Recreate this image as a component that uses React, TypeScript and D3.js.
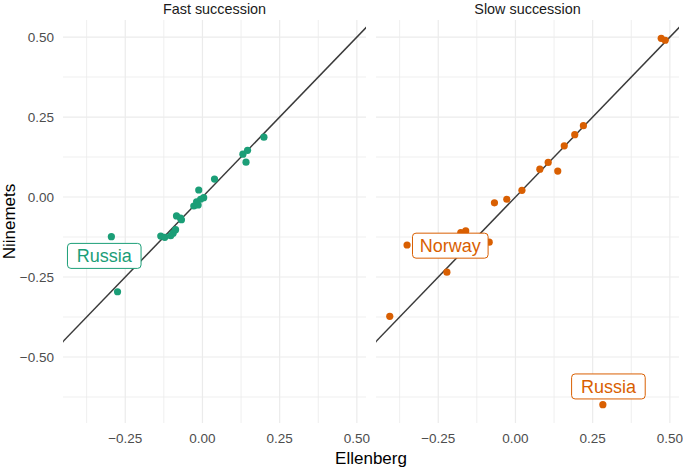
import React from "react";
import * as d3 from "d3";

const panels = ["Fast succession", "Slow succession"];
const panelColors = ["#1B9E77", "#D95F02"];

// Fast succession (Ellenberg, Niinemets)
const fastEllenberg = [-0.295, -0.275, -0.135, -0.122, -0.103, -0.095, -0.087, -0.084, -0.068, -0.071, -0.028, -0.019, -0.014, -0.012, 0.004, -0.006, 0.039, 0.131, 0.146, 0.141, 0.199];
const fastNiinemets = [-0.124, -0.296, -0.122, -0.126, -0.121, -0.113, -0.102, -0.059, -0.071, -0.066, -0.028, -0.015, -0.025, 0.022, -0.002, -0.007, 0.056, 0.134, 0.146, 0.109, 0.187];

// Slow succession
const slowEllenberg = [-0.407, -0.351, -0.222, -0.177, -0.161, -0.085, -0.068, -0.028, 0.021, 0.079, 0.106, 0.137, 0.158, 0.192, 0.22, 0.472, 0.485, 0.283];
const slowNiinemets = [-0.373, -0.15, -0.235, -0.111, -0.106, -0.141, -0.018, -0.007, 0.021, 0.087, 0.108, 0.081, 0.16, 0.195, 0.223, 0.496, 0.49, -0.649];

// labels: panel index, text, label centre (data units)
const labelPanel = [0, 1, 1];
const labelText = ["Russia", "Norway", "Russia"];
const labelX = [-0.318, -0.211, 0.301];
const labelY = [-0.184, -0.152, -0.592];

const xMajor = [-0.25, 0, 0.25, 0.5];
const xMinor = [-0.375, -0.125, 0.125, 0.375];
const yMajor = [-0.5, -0.25, 0, 0.25, 0.5];
const yMinor = [-0.625, -0.375, -0.125, 0.125, 0.375];

const W = 683;
const H = 468;
const font = "'Liberation Sans', Arial, Helvetica, sans-serif";

function expand(vals: number[]): [number, number] {
  const [a, b] = d3.extent(vals) as [number, number];
  const e = (b - a) * 0.05;
  return [a - e, b + e];
}

const fmt = (v: number) => d3.format(".2f")(v);

export default function App() {
  const allX = [...fastEllenberg, ...slowEllenberg];
  const allY = [...fastNiinemets, ...slowNiinemets];
  const xDom = expand(allX);
  const yDom = expand(allY);
  const top = 20;
  const bottom = 423;
  const panelLeft = [63, 376];
  const panelW = 303;
  const y = d3.scaleLinear().domain(yDom).range([bottom, top]);
  const data = [
    { xs: fastEllenberg, ys: fastNiinemets },
    { xs: slowEllenberg, ys: slowNiinemets },
  ];

  return (
    <svg width={W} height={H} style={{ display: "block", position: "absolute", left: 0, top: 0, background: "#fff" }} fontFamily={font}>
      <rect width={W} height={H} fill="#fff" />
      <defs>
        {panels.map((p, i) => (
          <clipPath id={`clip${i}`} key={p}>
            <rect x={panelLeft[i]} y={top} width={panelW} height={bottom - top} />
          </clipPath>
        ))}
      </defs>
      {panels.map((p, i) => {
        const x = d3.scaleLinear().domain(xDom).range([panelLeft[i], panelLeft[i] + panelW]);
        const d = data[i];
        const col = panelColors[i];
        const line = d3.line<number>().x((v) => x(v)).y((v) => y(v));
        return (
          <g key={p}>
            {xMinor.map((v) => (
              <line key={"xm" + v} x1={x(v)} x2={x(v)} y1={top} y2={bottom} stroke="#ebebeb" strokeWidth={0.8} />
            ))}
            {yMinor.filter((v) => v >= yDom[0] && v <= yDom[1]).map((v) => (
              <line key={"ym" + v} x1={panelLeft[i]} x2={panelLeft[i] + panelW} y1={y(v)} y2={y(v)} stroke="#ebebeb" strokeWidth={0.8} />
            ))}
            {xMajor.map((v) => (
              <line key={"xM" + v} x1={x(v)} x2={x(v)} y1={top} y2={bottom} stroke="#ebebeb" strokeWidth={1.2} />
            ))}
            {yMajor.map((v) => (
              <line key={"yM" + v} x1={panelLeft[i]} x2={panelLeft[i] + panelW} y1={y(v)} y2={y(v)} stroke="#ebebeb" strokeWidth={1.2} />
            ))}
            <path d={line([-1, 1]) || ""} stroke="#3a3a3a" strokeWidth={1.5} fill="none" clipPath={`url(#clip${i})`} />
            {d.xs.map((v, j) => (
              <circle key={j} cx={x(v)} cy={y(d.ys[j])} r={3.6} fill={col} />
            ))}
            {labelText.map((t, k) => {
              if (labelPanel[k] !== i) return null;
              const cx = x(labelX[k]);
              const cy = y(labelY[k]);
              const tw = t.length * 10.1 + (t === "Norway" ? 2 : 0);
              const w = tw + 13;
              const h = 25;
              return (
                <g key={"lab" + k}>
                  <rect x={cx - w / 2} y={cy - h / 2} width={w} height={h} rx={3.5} fill="#fff" stroke={col} strokeWidth={1} />
                  <text x={cx} y={cy + 6.3} textAnchor="middle" fontSize={18} fill={col}>{t}</text>
                </g>
              );
            })}
            {xMajor.map((v) => (
              <text key={"xt" + v} x={x(v)} y={443} textAnchor="middle" fontSize={13.5} fill="#4d4d4d">{fmt(v)}</text>
            ))}
            <text x={panelLeft[i] + panelW / 2} y={13.5} textAnchor="middle" fontSize={14.4} fill="#1a1a1a">{p}</text>
          </g>
        );
      })}
      {yMajor.map((v) => (
        <text key={"yt" + v} x={54} y={y(v) + 4.8} textAnchor="end" fontSize={13.5} fill="#4d4d4d">{fmt(v)}</text>
      ))}
      <text x={(panelLeft[0] + panelLeft[1] + panelW) / 2} y={463.5} textAnchor="middle" fontSize={17} fill="#000">Ellenberg</text>
      <text transform={`translate(15,${(top + bottom) / 2}) rotate(-90)`} textAnchor="middle" fontSize={17} fill="#000">Niinemets</text>
    </svg>
  );
}
